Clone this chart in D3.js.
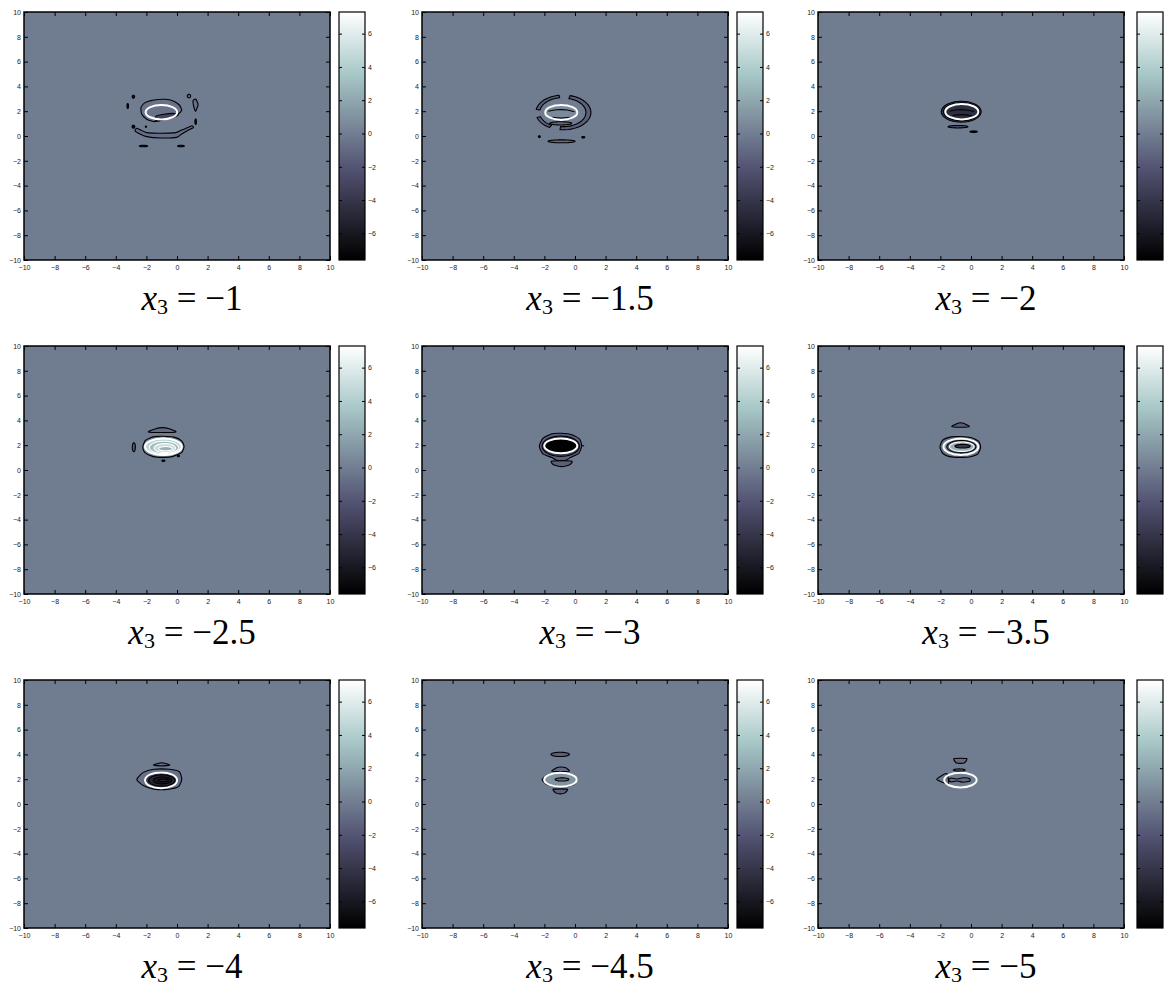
<!DOCTYPE html>
<html>
<head>
<meta charset="utf-8">
<script src="https://cdn.jsdelivr.net/npm/d3@7"></script>
<style>
  body { margin: 0; background: #fff; }
  .tick text { font-family: "Liberation Sans", Arial, sans-serif; font-size: 7px; fill: #222; }
</style>
</head>
<body>
<svg id="fig" width="1165" height="987"></svg>
<script>
/**
 *  Slices of the field at fixed x3, bone colour map
 */

var slices    = ['−1', '−1.5', '−2', '−2.5', '−3', '−3.5', '−4', '−4.5', '−5'];
var axisTicks = [-10, -8, -6, -4, -2, 0, 2, 4, 6, 8, 10];
var barTicks  = [-6, -4, -2, 0, 2, 4, 6];
var barRange  = [-7.6, 7.3];
var bgLevel   = -0.1;

// white marker ellipse of each slice: cx, cy, rx, ry (plot units)
var rings = [
  [-1.02, 1.92, 1.03, 0.58],
  [-0.90, 1.90, 1.05, 0.60],
  [-0.60, 1.96, 1.08, 0.62],
  [-0.89, 1.88, 1.20, 0.67],
  [-0.93, 1.95, 1.08, 0.60],
  [-0.66, 1.88, 1.14, 0.67],
  [-1.04, 1.91, 1.05, 0.64],
  [-0.95, 1.96, 1.06, 0.56],
  [-0.69, 1.93, 1.06, 0.59]
];

// contour regions of each slice (plot units), v = level inside
// e: ellipse, p: closed outline, b: piece of a ring, l: open line
var s1 = [
  { t: 'p', v: -0.6, pts: [[-1.44,1.15],[-1.98,1.35],[-2.31,1.77],[-2.35,2.31],[-2.09,2.69],[-1.5,2.9],[-0.78,2.96],[-0.24,2.82],[0.15,2.5],[0.31,2.1],[0.09,1.77],[-0.3,1.5],[-0.9,1.3]] },
  { t: 'p', v: -3, pts: [[-1.42,1.25],[-1.35,1.62],[-0.85,1.76],[-0.2,1.82],[0.08,1.7],[-0.35,1.45],[-0.95,1.36]] },
  { t: 'e', c: [-2.85,3.17], r: [0.08,0.12], v: -7 },
  { t: 'e', c: [-3.22,2.42], r: [0.05,0.2], v: -7 },
  { t: 'e', c: [0.78,3.22], r: [0.11,0.14], v: -1 },
  { t: 'p', v: -0.8, pts: [[1.05,2.85],[1.22,2.98],[1.38,2.55],[1.22,2.0],[1.1,2.35]] },
  { t: 'e', c: [1.22,1.15], r: [0.05,0.22], v: -7 },
  { t: 'e', c: [-2.85,0.75], r: [0.09,0.12], v: -7 },
  { t: 'e', c: [-2.03,0.75], r: [0.04,0.05], v: -7 },
  { t: 'p', v: -0.8, pts: [[-2.75,0.43],[-2.42,0.16],[-1.98,-0.05],[-1.11,-0.16],[-0.02,-0.11],[0.31,0.16],[0.67,0.43],[1.07,0.67],[0.98,0.83],[0.59,0.62],[0.2,0.43],[-0.07,0.27],[-1.11,0.22],[-1.98,0.27],[-2.37,0.48],[-2.63,0.62]] },
  { t: 'e', c: [-2.19,-0.81], r: [0.27,0.06], v: -7 },
  { t: 'e', c: [0.26,-0.81], r: [0.22,0.06], v: -7 }
];
var s2 = [
  { t: 'b', c: [-0.76,1.9], r: [1.8,1.4], k: 0.86, a: [99,170], v: -1.5 },
  { t: 'b', c: [-0.76,1.9], r: [1.8,1.4], k: 0.86, a: [197,240], v: -1.5 },
  { t: 'b', c: [-0.76,1.9], r: [1.8,1.4], k: 0.82, a: [-97,76], v: -1.5 },
  { t: 'e', c: [-0.93,1.02], r: [0.72,0.13], v: -1.2 },
  { t: 'e', c: [-0.9,1.9], r: [1.05,0.6], v: 0.6 },
  { t: 'l', pts: [[-1.75,2.0],[-1.2,2.12],[-0.5,2.1],[-0.05,1.95]] },
  { t: 'l', pts: [[-1.5,1.5],[-0.9,1.45],[-0.3,1.5]] },
  { t: 'e', c: [-0.88,-0.43], r: [0.88,0.12], v: -1 },
  { t: 'e', c: [-2.33,-0.05], r: [0.06,0.07], v: -7 },
  { t: 'e', c: [0.54,-0.1], r: [0.1,0.06], v: -7 }
];
var s3 = [
  { t: 'e', c: [-0.64,1.96], r: [1.3,0.84], v: -3 },
  { t: 'e', c: [-0.62,1.96], r: [1.19,0.73], v: -4 },
  { t: 'e', c: [-0.6,1.96], r: [1.08,0.62], v: -4.5 },
  { t: 'l', pts: [[-1.4,2.0],[-0.9,2.12],[-0.3,2.1],[0.2,1.98]] },
  { t: 'l', pts: [[-1.2,1.65],[-0.6,1.72],[0.05,1.62]] },
  { t: 'e', c: [-0.85,0.75], r: [0.65,0.1], v: -2.5 },
  { t: 'e', c: [0.17,0.35], r: [0.24,0.06], v: -7 }
];
var s4 = [
  { t: 'p', v: -1, pts: [[-1.87,3.07],[-1.4,3.33],[-0.97,3.42],[-0.5,3.33],[-0.07,3.07],[-0.97,3.02]] },
  { t: 'e', c: [-2.82,1.84], r: [0.1,0.36], v: -2 },
  { t: 'p', v: 0.6, pts: [[-2.24,1.85],[-2.05,2.4],[-1.5,2.69],[-0.9,2.72],[-0.2,2.65],[0.3,2.35],[0.46,1.9],[0.3,1.4],[-0.3,1.08],[-0.9,1.02],[-1.6,1.1],[-2.1,1.4]] },
  { t: 'e', c: [-0.89,1.88], r: [1.2,0.67], v: 4.5 },
  { t: 'e', c: [-0.85,1.82], r: [0.95,0.5], v: 3 },
  { t: 'e', c: [-0.8,1.77], r: [0.7,0.36], v: 5 },
  { t: 'e', c: [-0.75,1.72], r: [0.45,0.17], v: 2.5 },
  { t: 'e', c: [-0.89,0.75], r: [0.1,0.06], v: -7 },
  { t: 'e', c: [0.09,1.13], r: [0.07,0.06], v: -7 }
];
var s5 = [
  { t: 'p', v: -1.5, pts: [[-1.52,0.72],[-0.22,0.72],[-0.35,0.42],[-0.87,0.27],[-1.4,0.42]] },
  { t: 'p', v: -1.5, pts: [[-2.33,1.9],[-2.1,2.55],[-1.5,2.93],[-0.9,2.96],[-0.2,2.85],[0.3,2.5],[0.44,1.95],[0.25,1.35],[-0.3,1.0],[-0.6,0.78],[-1.2,0.78],[-1.5,1.0],[-2.1,1.3]] },
  { t: 'e', c: [-0.93,1.92], r: [1.22,0.82], v: -3.5 },
  { t: 'e', c: [-0.93,1.95], r: [1.08,0.6], v: -7.5 },
  { t: 'l', pts: [[0.46,1.98],[0.6,1.93]] }
];
var s6 = [
  { t: 'p', v: -1.5, pts: [[-1.26,3.5],[-0.9,3.75],[-0.69,3.81],[-0.45,3.75],[-0.11,3.5],[-0.69,3.45]] },
  { t: 'p', v: -0.5, pts: [[-2.03,1.85],[-1.85,2.4],[-1.3,2.67],[-0.7,2.7],[0.0,2.62],[0.5,2.3],[0.63,1.85],[0.45,1.3],[-0.1,1.05],[-0.7,1.02],[-1.4,1.08],[-1.85,1.35]] },
  { t: 'e', c: [-0.66,1.88], r: [1.14,0.67], v: 1.5 },
  { t: 'e', c: [-0.63,1.88], r: [0.95,0.5], v: -1 },
  { t: 'e', c: [-0.6,1.88], r: [0.8,0.38], v: 2.5 },
  { t: 'e', c: [-0.55,1.92], r: [0.5,0.15], v: -4 }
];
var s7 = [
  { t: 'p', v: -1, pts: [[-1.55,3.15],[-1.0,3.33],[-0.46,3.15],[-1.0,3.06]] },
  { t: 'p', v: -0.7, pts: [[-2.63,1.98],[-2.2,2.55],[-1.5,2.8],[-0.5,2.8],[0.15,2.6],[0.31,2.0],[0.1,1.4],[-0.6,1.18],[-1.5,1.2],[-2.2,1.5]] },
  { t: 'e', c: [-1.04,1.91], r: [1.05,0.64], v: -4 },
  { t: 'e', c: [-1.0,1.9], r: [0.85,0.45], v: -5 },
  { t: 'e', c: [-0.95,1.9], r: [0.6,0.28], v: -6 },
  { t: 'e', c: [-0.9,1.9], r: [0.35,0.1], v: -5 }
];
var s8 = [
  { t: 'e', c: [-0.97,4.0], r: [0.6,0.17], v: -1.5 },
  { t: 'p', v: -1, pts: [[-1.52,2.65],[-1.2,2.92],[-0.95,2.98],[-0.6,2.92],[-0.37,2.65],[-0.95,2.62]] },
  { t: 'p', v: -0.5, pts: [[-2.15,1.96],[-1.8,2.35],[-0.95,2.55],[-0.1,2.35],[0.11,1.96],[-0.1,1.55],[-0.95,1.4],[-1.8,1.55]] },
  { t: 'e', c: [-0.95,1.96], r: [1.06,0.56], v: 1 },
  { t: 'e', c: [-0.85,1.98], r: [0.45,0.13], v: -1 },
  { t: 'p', v: -1.5, pts: [[-1.42,1.2],[-0.5,1.2],[-0.65,0.9],[-0.96,0.82],[-1.27,0.9]] }
];
var s9 = [
  { t: 'p', v: -1, pts: [[-1.11,3.66],[-0.28,3.66],[-0.45,3.3],[-0.95,3.3]] },
  { t: 'e', c: [-0.77,2.74], r: [0.38,0.09], v: -1 },
  { t: 'p', v: -0.3, pts: [[-2.24,1.99],[-1.59,2.45],[-1.48,1.63]] },
  { t: 'p', v: -1, pts: [[-1.48,1.95],[-1.3,2.1],[-0.9,2.02],[-0.5,2.12],[-0.1,2.05],[-0.07,1.85],[-0.5,1.75],[-0.9,1.85],[-1.3,1.78]] }
];
var shapes = [s1, s2, s3, s4, s5, s6, s7, s8, s9];

// layout
var pw = 306, ph = 248;
var colLeft = [24, 422, 818];
var colBar  = [339, 737, 1137];
var rowStep = 334;
var serif = "'Liberation Serif', 'Times New Roman', Times, 'DejaVu Serif', 'Noto Serif', serif";

// bone colour map
var rC = d3.scaleLinear().domain([0, 0.746, 1]).range([0, 0.6528, 1]);
var gC = d3.scaleLinear().domain([0, 0.365, 0.746, 1]).range([0, 0.3194, 0.7778, 1]);
var bC = d3.scaleLinear().domain([0, 0.365, 1]).range([0, 0.4444, 1]);
var level = d3.scaleLinear().domain(barRange).range([0, 1]).clamp(true);
var bone = function(v) {
    var t = level(v);
    return d3.rgb(rC(t) * 255, gC(t) * 255, bC(t) * 255).formatHex();
};

var svg = d3.select("#fig");
var defs = svg.append("defs");
var grad = defs.append("linearGradient").attr("id", "bone")
    .attr("x1", 0).attr("y1", 1).attr("x2", 0).attr("y2", 0);
d3.range(0, 65).forEach(function(i) {
    var v = barRange[0] + (barRange[1] - barRange[0]) * i / 64;
    grad.append("stop").attr("offset", (i / 64)).attr("stop-color", bone(v));
});

var outline = function(d) {
    var pts = [];
    if (d.t == 'e') {
        for (var i = 0; i < 72; i++) {
            var a = i / 72 * 2 * Math.PI;
            pts.push([d.c[0] + d.r[0] * Math.cos(a), d.c[1] + d.r[1] * Math.sin(a)]);
        }
    } else if (d.t == 'b') {
        var a0 = d.a[0] * Math.PI / 180, a1 = d.a[1] * Math.PI / 180;
        for (var i = 0; i <= 30; i++) {
            var a = a0 + (a1 - a0) * i / 30;
            pts.push([d.c[0] + d.r[0] * Math.cos(a), d.c[1] + d.r[1] * Math.sin(a)]);
        }
        for (var i = 30; i >= 0; i--) {
            var a = a0 + (a1 - a0) * i / 30;
            pts.push([d.c[0] + d.k * d.r[0] * Math.cos(a), d.c[1] + d.k * d.r[1] * Math.sin(a)]);
        }
    } else {
        pts = d.pts;
    }
    return pts;
};

slices.forEach(function(label, n) {
    var col = n % 3, row = Math.floor(n / 3);
    var left = colLeft[col], top = 12 + row * rowStep;
    var g = svg.append("g").attr("transform", "translate(" + left + "," + top + ")");

    var x = d3.scaleLinear().domain([-10, 10]).range([0, pw]);
    var y = d3.scaleLinear().domain([-10, 10]).range([ph, 0]);

    g.append("rect").attr("width", pw).attr("height", ph).attr("fill", bone(bgLevel));

    var smooth = d3.line().x(function(p) { return x(p[0]); }).y(function(p) { return y(p[1]); });

    shapes[n].forEach(function(d) {
        var pts = outline(d);
        if (d.t == 'l') {
            g.append("path").attr("d", smooth.curve(d3.curveCardinal)(pts))
             .attr("fill", "none").attr("stroke", "#000").attr("stroke-width", 1.1);
            return;
        }
        var curve = d.t == 'p' ? d3.curveCardinalClosed.tension(0.4) : d3.curveLinearClosed;
        g.append("path").attr("d", smooth.curve(curve)(pts))
         .attr("fill", bone(d.v))
         .attr("stroke", d.v >= 2 ? "#fff" : "#000")
         .attr("stroke-width", 1.1)
         .attr("stroke-linejoin", "round");
    });

    var r = rings[n];
    g.append("ellipse")
     .attr("cx", x(r[0])).attr("cy", y(r[1]))
     .attr("rx", x(r[0] + r[2]) - x(r[0])).attr("ry", y(r[1]) - y(r[1] + r[3]))
     .attr("fill", "none").attr("stroke", "#fff").attr("stroke-width", 2);

    // axes, ticks inside
    var fmt = d3.format("d");
    g.append("g").attr("transform", "translate(0," + ph + ")")
     .call(d3.axisBottom(x).tickValues(axisTicks).tickSize(-4).tickPadding(5).tickFormat(fmt));
    g.append("g")
     .call(d3.axisLeft(y).tickValues(axisTicks).tickSize(-4).tickPadding(3).tickFormat(fmt));
    g.append("g")
     .call(d3.axisTop(x).tickValues(axisTicks).tickSize(-4).tickFormat(""));
    g.append("g").attr("transform", "translate(" + pw + ",0)")
     .call(d3.axisRight(y).tickValues(axisTicks).tickSize(-4).tickFormat(""));
    g.selectAll(".domain").remove();
    g.selectAll(".tick line").attr("stroke", "#000");
    g.append("rect").attr("width", pw).attr("height", ph)
     .attr("fill", "none").attr("stroke", "#000").attr("stroke-width", 1.5);

    // colour bar (the right-most one is cut by the page edge, as in the figure)
    var cbw = 26;
    var cb = g.append("g").attr("transform", "translate(" + (colBar[col] - left) + ",0)");
    var cy = d3.scaleLinear().domain(barRange).range([ph, 0]);
    cb.append("rect").attr("width", cbw).attr("height", ph).attr("fill", "url(#bone)");
    cb.append("g").attr("transform", "translate(" + cbw + ",0)")
      .call(d3.axisRight(cy).tickValues(barTicks).tickSize(-3).tickPadding(3)
            .tickFormat(col < 2 ? fmt : ""));
    cb.append("g")
      .call(d3.axisLeft(cy).tickValues(barTicks).tickSize(-3).tickFormat(""));
    cb.selectAll(".domain").remove();
    cb.selectAll(".tick line").attr("stroke", "#000");
    cb.append("rect").attr("width", cbw).attr("height", ph)
      .attr("fill", "none").attr("stroke", "#000").attr("stroke-width", 1.2);

    // slice title
    var t = g.append("text")
      .attr("x", 168).attr("y", 298).attr("text-anchor", "middle")
      .attr("font-family", serif).attr("font-size", 35);
    t.append("tspan").attr("font-style", "italic").text("x");
    t.append("tspan").attr("font-size", 22).attr("dy", 4).text("3");
    t.append("tspan").attr("dy", -4).text(" = " + label);
});
</script>
</body>
</html>
